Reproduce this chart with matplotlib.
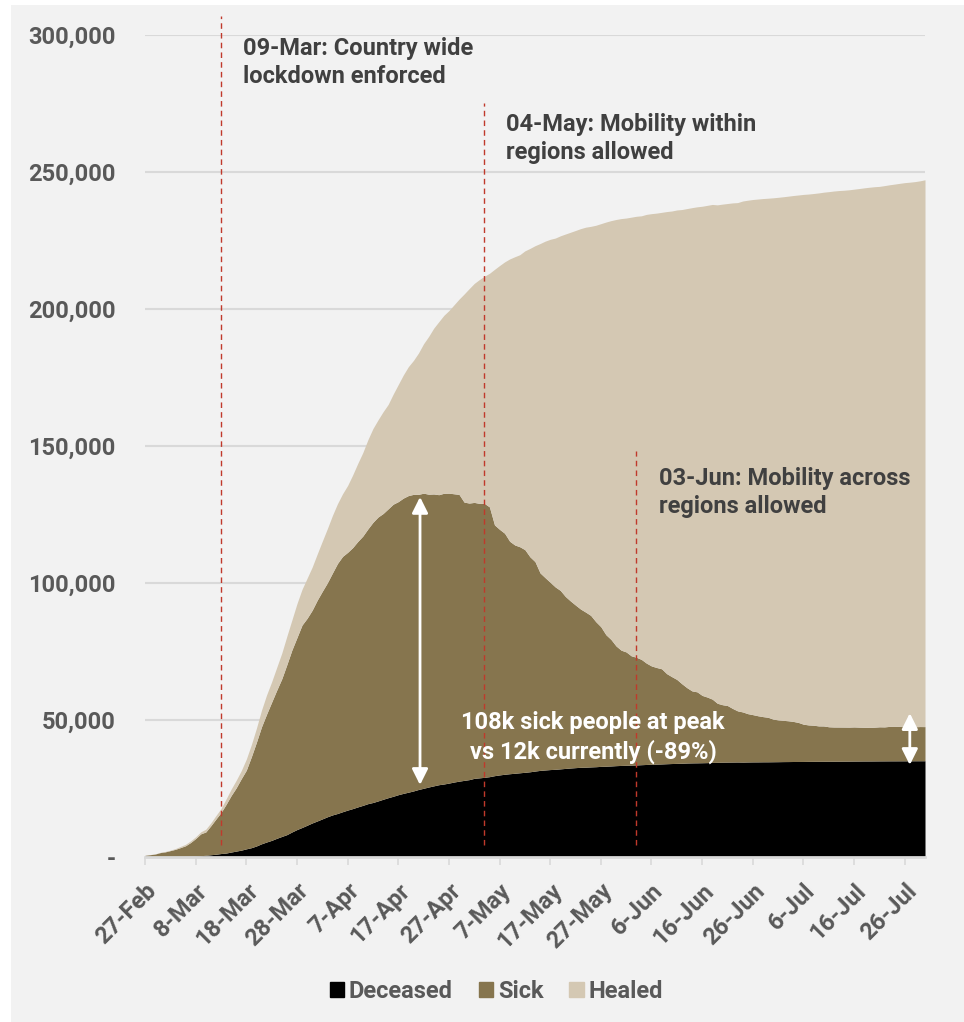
import matplotlib.pyplot as plt
import matplotlib.patches as mpatches
from matplotlib.ticker import FuncFormatter
import numpy as np

plt.rcParams['font.family'] = ['Roboto', 'DejaVu Sans']
plt.rcParams['font.weight'] = 'bold'

# Italy, daily values from 27-Feb to 30-Jul
deceased = (
    [17, 21, 29]
    + [34, 52, 79, 107, 148, 197, 233, 366, 463, 631, 827, 1016, 1266, 1441, 1809, 2158,
       2503, 2978, 3405, 4032, 4825, 5476, 6077, 6820, 7503, 8165, 9134, 10023, 10779, 11591, 12428]
    + [13155, 13915, 14681, 15362, 15887, 16523, 17127, 17669, 18279, 18849, 19468, 19899, 20465,
       21067, 21645, 22170, 22745, 23227, 23660, 24114, 24648, 25085, 25549, 25969, 26384, 26644,
       26977, 27359, 27682, 27967]
    + [28236, 28710, 28884, 29079, 29315, 29684, 29958, 30201, 30395, 30560, 30739, 30911, 31106,
       31368, 31610, 31763, 31908, 32007, 32169, 32330, 32486, 32616, 32735, 32785, 32877, 32955,
       33072, 33142, 33229, 33340, 33415]
    + [33475, 33530, 33601, 33689, 33774, 33846, 33899, 33964, 34043, 34114, 34167, 34223, 34301,
       34345, 34371, 34405, 34448, 34514, 34561, 34610, 34634, 34657, 34675, 34644, 34678, 34708,
       34716, 34738, 34744, 34767]
    + [34788, 34818, 34833, 34854, 34861, 34869, 34899, 34914, 34926, 34938, 34945, 34954, 34967,
       34984, 34997, 35017, 35028, 35042, 35045, 35058, 35073, 35082, 35092, 35097, 35102, 35107,
       35112, 35123, 35129, 35132]
)

sick = (
    [588, 821, 1049]
    + [1577, 1835, 2263, 2706, 3296, 3916, 5061, 6387, 7985, 8514, 10590, 12839, 14955, 17750,
       20603, 23073, 26062, 28710, 33190, 37860, 42681, 46638, 50418, 54030, 57521, 62013, 66414,
       70065, 73880, 75528, 77635]
    + [80572, 83049, 85388, 88274, 91246, 93187, 94067, 95262, 96877, 98273, 100269, 102253,
       103616, 104291, 105418, 106607, 106962, 107771, 108257, 108237, 107709, 107699, 106848,
       106527, 105847, 106103, 105813, 105205, 104657, 101551]
    + [100943, 100704, 100179, 99980, 98467, 91528, 89624, 87961, 84842, 83324, 82488, 81266,
       78457, 76440, 72070, 70187, 68351, 66553, 65129, 62752, 60960, 59322, 57752, 56594, 55300,
       52942, 50966, 47986, 46175, 43691, 42075]
    + [41367, 39893, 39297, 38429, 36976, 35877, 35262, 34730, 32872, 31710, 30637, 28997, 27485,
       26274, 25909, 24569, 23925, 23101, 21543, 20972, 20637, 19573, 18655, 18303, 17638, 17248,
       16836, 16496, 16248, 15563]
    + [15255, 15060, 14884, 14621, 14242, 13595, 13303, 13179, 12919, 12890, 12581, 12493, 12473,
       12440, 12404, 12456, 12368, 12301, 12248, 12322, 12442, 12404, 12581, 12565, 12616, 12368,
       12442, 12404, 12482, 12457]
)

# total cases = top edge of the healed area
total = (
    [655, 888, 1128]
    + [1694, 2036, 2502, 3089, 3858, 4636, 5883, 7375, 9172, 10149, 12462, 15113, 17660, 21157,
       24747, 27980, 31506, 35713, 41035, 47021, 53578, 59138, 63927, 69176, 74386, 80539, 86498,
       92472, 97689, 101739, 105792]
    + [110574, 115242, 119827, 124632, 128948, 132547, 135586, 139422, 143626, 147577, 152271,
       156363, 159516, 162488, 165155, 168941, 172434, 175925, 178972, 181228, 183957, 187327,
       189973, 192994, 195351, 197675, 199414, 201505, 203591, 205463]
    + [207428, 209328, 210717, 211938, 213013, 214457, 215858, 217185, 218268, 219070, 219814,
       221216, 222104, 223096, 223885, 224760, 225435, 225886, 226699, 227364, 228006, 228658,
       229327, 229858, 230158, 230555, 231139, 231732, 232248, 232664, 232997]
    + [233197, 233515, 233836, 234013, 234531, 234801, 234998, 235278, 235561, 235763, 236142,
       236305, 236651, 236989, 237290, 237500, 237828, 238159, 238011, 238275, 238499, 238720,
       238833, 239410, 239706, 239961, 240136, 240310, 240436, 240578]
    + [240760, 240961, 241184, 241419, 241611, 241819, 241956, 242149, 242363, 242639, 242827,
       243061, 243230, 243344, 243506, 243736, 243967, 244216, 244434, 244624, 244752, 245032,
       245338, 245590, 245864, 246118, 246286, 246488, 246776, 247158]
)

tick_labels = ['27-Feb', '8-Mar', '18-Mar', '28-Mar', '7-Apr', '17-Apr', '27-Apr', '7-May',
               '17-May', '27-May', '6-Jun', '16-Jun', '26-Jun', '6-Jul', '16-Jul', '26-Jul']

# day index of the event lines and their labels
events = [15, 67, 97]
event_tops = [307000, 275000, 148000]
event_texts = ['09-Mar: Country wide\nlockdown enforced',
               '04-May: Mobility within\nregions allowed',
               '03-Jun: Mobility across\nregions allowed']
event_text_pos = [(19.3, 299400), (71.3, 271700), (101.4, 142500)]

c_dec = '#000000'
c_sick = '#86754e'
c_heal = '#d4c8b3'
c_text = '#595959'

days = np.arange(len(sick))
dec = np.array(deceased)
sick_top = dec + np.array(sick)
tot = np.array(total)

fig = plt.figure(figsize=(9.64, 10.22), dpi=100)
fig.patch.set_facecolor('white')
fig.patches.append(mpatches.Rectangle((11 / 964, 0), 1, 1 - 5 / 1022, transform=fig.transFigure,
                                      facecolor='#f2f2f2', edgecolor='none', zorder=-10))

ax = fig.add_axes([145 / 964, 1 - 857 / 1022, (925 - 145) / 964, (857 - 35) / 1022])
ax.set_facecolor('#f2f2f2')

ax.fill_between(days, 0, dec, color=c_dec, lw=0, zorder=2)
ax.fill_between(days, dec, sick_top, color=c_sick, lw=0, zorder=2)
ax.fill_between(days, sick_top, tot, color=c_heal, lw=0, zorder=2)

ax.set_xlim(0, len(sick) - 1)
ax.set_ylim(0, 300000)

ax.set_yticks(np.arange(0, 300001, 50000))
ax.yaxis.set_major_formatter(FuncFormatter(lambda v, p: '-' if v == 0 else f'{int(v):,}'))
ax.grid(axis='y', color='#d9d9d9', lw=1.5, zorder=0)
ax.set_axisbelow(True)

ax.set_xticks(np.arange(0, len(sick), 10))
ax.set_xticklabels(tick_labels, rotation=45, ha='right', rotation_mode='anchor')

for s in ['top', 'right', 'left']:
    ax.spines[s].set_visible(False)
ax.spines['bottom'].set_color('#d9d9d9')
ax.spines['bottom'].set_linewidth(2)
ax.spines['bottom'].set_zorder(3)

ax.tick_params(axis='y', length=0, pad=21, labelsize=17, labelcolor=c_text)
ax.tick_params(axis='x', length=6, width=1.2, color='#d9d9d9', pad=10, labelsize=17,
               labelcolor=c_text)

# event lines
for d, top, txt, (tx, ty) in zip(events, event_tops, event_texts, event_text_pos):
    ax.plot([d, d], [4400, top], color='#c0392b', lw=1, ls=(0, (4, 3)), zorder=4, clip_on=False)
    ax.text(tx, ty, txt, ha='left', va='top', fontsize=17, color='#404040',
            linespacing=1.32, zorder=5)

# peak vs current arrows
arrow_kw = dict(arrowstyle='<|-|>', color='white', lw=2, mutation_scale=24, shrinkA=0, shrinkB=0)
ax.annotate('', xy=(54.3, 131400), xytext=(54.3, 26300), arrowprops=arrow_kw, zorder=6)
ax.annotate('', xy=(151, 52500), xytext=(151, 33600), arrowprops=arrow_kw, zorder=6)
ax.text(88.5, 43600, '108k sick people at peak\nvs 12k currently (-89%)', ha='center',
        va='center', fontsize=17, color='white', linespacing=1.32, zorder=6)

handles = [mpatches.Patch(color=c_dec, label='Deceased'),
           mpatches.Patch(color=c_sick, label='Sick'),
           mpatches.Patch(color=c_heal, label='Healed')]
leg = fig.legend(handles=handles, loc='center', bbox_to_anchor=(0.515, 1 - 991 / 1022), ncol=3,
                 frameon=False, fontsize=17, handlelength=0.6, handleheight=0.6,
                 handletextpad=0.2, columnspacing=1.1)
for t in leg.get_texts():
    t.set_color(c_text)

fig.savefig('out.png', dpi=100, facecolor=fig.get_facecolor())
